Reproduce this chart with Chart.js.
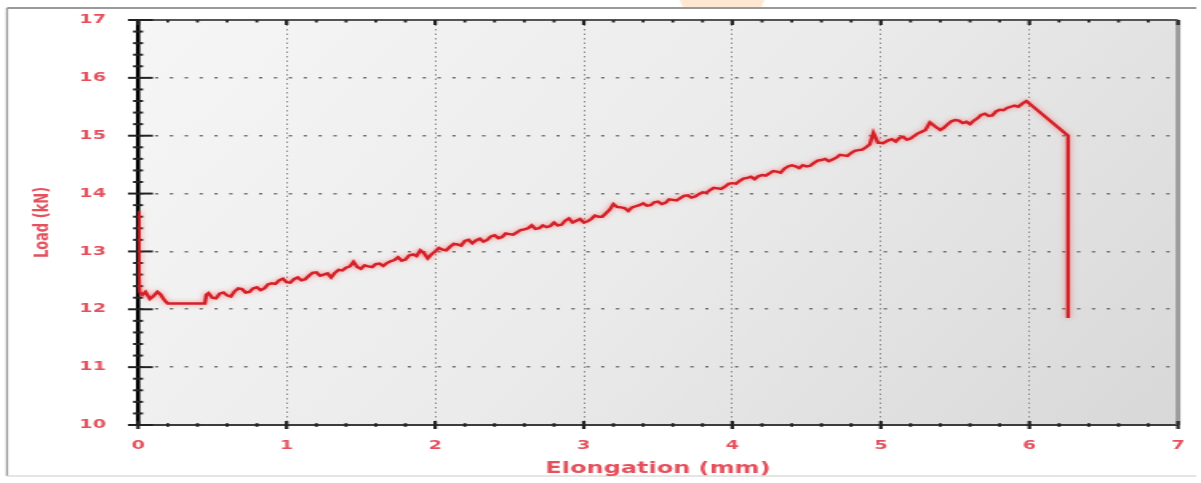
<!DOCTYPE html>
<html>
<head>
<meta charset="utf-8">
<script src="https://cdn.jsdelivr.net/npm/chart.js@4.4.1/dist/chart.umd.min.js"></script>
<style>
html, body { margin: 0; padding: 0; background: #fff; overflow: hidden; }
/* the source picture is stretched sideways, so draw narrow and stretch */
#wrap { width: 751px; height: 483px; transform: scaleX(1.5992); transform-origin: 0 0; }
</style>
</head>
<body>
<div id="wrap"><canvas id="c" width="751" height="483"></canvas></div>
<script>
// elongation (mm) / load (kN)
const elongation = [
  0.005, 0.005, 0.01, 0.03, 0.05, 0.08, 0.1, 0.13, 0.15, 0.18, 0.2, 0.45, 0.46, 0.475,
  0.5, 0.525, 0.55, 0.575, 0.6, 0.625, 0.65, 0.675, 0.7, 0.725, 0.75, 0.775, 0.8, 0.825, 0.85, 0.875, 0.9, 0.925, 0.95, 0.975,
  1.0, 1.025, 1.05, 1.075, 1.1, 1.125, 1.15, 1.175, 1.2, 1.225, 1.25, 1.275, 1.3, 1.325, 1.35, 1.375, 1.4, 1.425, 1.45, 1.475,
  1.5, 1.525, 1.55, 1.575, 1.6, 1.625, 1.65, 1.675, 1.7, 1.725, 1.75, 1.775, 1.8, 1.825, 1.85, 1.875, 1.9, 1.925, 1.95, 1.975,
  2.0, 2.025, 2.05, 2.075, 2.1, 2.125, 2.15, 2.175, 2.2, 2.225, 2.25, 2.275, 2.3, 2.325, 2.35, 2.375, 2.4, 2.425, 2.45, 2.475,
  2.5, 2.525, 2.55, 2.575, 2.6, 2.625, 2.65, 2.675, 2.7, 2.725, 2.75, 2.775, 2.8, 2.825, 2.85, 2.875, 2.9, 2.925, 2.95, 2.975,
  3.0, 3.025, 3.05, 3.075, 3.1, 3.125, 3.15, 3.175, 3.2, 3.225, 3.25, 3.275, 3.3, 3.325, 3.35, 3.375, 3.4, 3.425, 3.45, 3.475,
  3.5, 3.525, 3.55, 3.575, 3.6, 3.625, 3.65, 3.675, 3.7, 3.725, 3.75, 3.775, 3.8, 3.825, 3.85, 3.875, 3.9, 3.925, 3.95, 3.975,
  4.0, 4.025, 4.05, 4.075, 4.1, 4.125, 4.15, 4.175, 4.2, 4.225, 4.25, 4.275, 4.3, 4.325, 4.35, 4.375, 4.4, 4.425, 4.45, 4.475,
  4.5, 4.525, 4.55, 4.575, 4.6, 4.625, 4.65, 4.675, 4.7, 4.725, 4.75, 4.775, 4.8, 4.825, 4.85, 4.875, 4.9, 4.925, 4.95, 4.98,
  5.015, 5.05, 5.075, 5.1, 5.125, 5.15, 5.175, 5.2, 5.225, 5.25, 5.275, 5.3, 5.33, 5.37, 5.4, 5.425, 5.45, 5.475,
  5.5, 5.525, 5.55, 5.575, 5.6, 5.625, 5.65, 5.675, 5.7, 5.725, 5.75, 5.775, 5.8, 5.825, 5.85, 5.875, 5.9, 5.925, 5.95, 5.98,
  6.26, 6.26];
const load = [
  13.7, 12.6, 12.3, 12.25, 12.3, 12.18, 12.22, 12.3, 12.26, 12.15, 12.1, 12.1, 12.25, 12.28,
  12.2, 12.19, 12.27, 12.29, 12.24, 12.22, 12.31, 12.36, 12.35, 12.29, 12.3, 12.36, 12.38, 12.33, 12.36, 12.43, 12.45, 12.44, 12.5, 12.53,
  12.47, 12.46, 12.52, 12.55, 12.5, 12.52, 12.58, 12.63, 12.64, 12.58, 12.6, 12.62, 12.55, 12.63, 12.68, 12.67, 12.72, 12.74, 12.82, 12.73,
  12.7, 12.76, 12.74, 12.73, 12.78, 12.79, 12.75, 12.8, 12.83, 12.85, 12.9, 12.84, 12.86, 12.93, 12.95, 12.92, 13.02, 12.97, 12.88, 12.95,
  13.0, 13.06, 13.03, 13.02, 13.08, 13.13, 13.12, 13.1, 13.18, 13.2, 13.14, 13.19, 13.22, 13.17, 13.2, 13.26, 13.28, 13.23, 13.25, 13.31,
  13.3, 13.29, 13.33, 13.37, 13.38, 13.4, 13.45, 13.39, 13.4, 13.45, 13.42, 13.44, 13.5, 13.45, 13.46, 13.53, 13.57, 13.5, 13.53, 13.56,
  13.5, 13.52, 13.56, 13.62, 13.6, 13.6, 13.66, 13.72, 13.82, 13.77, 13.76, 13.75, 13.7, 13.76, 13.78, 13.8, 13.83, 13.79, 13.8, 13.85,
  13.86, 13.82, 13.84, 13.9, 13.89, 13.88, 13.92, 13.96, 13.97, 13.93, 13.95, 13.99, 14.02, 14.01, 14.06, 14.1, 14.09, 14.08, 14.12, 14.17,
  14.18, 14.17, 14.22, 14.26, 14.27, 14.29, 14.25, 14.3, 14.32, 14.31, 14.35, 14.39, 14.38, 14.36, 14.43, 14.47, 14.49, 14.47, 14.44, 14.49,
  14.47, 14.48, 14.53, 14.57, 14.58, 14.6, 14.56, 14.59, 14.62, 14.67, 14.66, 14.65, 14.7, 14.74, 14.75, 14.76, 14.8, 14.85, 15.05, 14.88,
  14.87, 14.92, 14.94, 14.9, 14.96, 14.98, 14.93, 14.95, 15.0, 15.04, 15.07, 15.1, 15.23, 15.15, 15.1, 15.14, 15.2, 15.25,
  15.27, 15.26, 15.22, 15.24, 15.2, 15.26, 15.3, 15.36, 15.38, 15.34, 15.35, 15.42, 15.45, 15.44, 15.48, 15.5, 15.52, 15.5, 15.55, 15.6,
  15.0, 11.85];

const xMajorTicks = [0, 1, 2, 3, 4, 5, 6, 7];
const yMajorTicks = [10, 11, 12, 13, 14, 15, 16, 17];
const minorPerMajor = 5;

const labelRed = '#e4505c';
const tickFont = { family: 'DejaVu Sans', size: 12, weight: 'bold' };

function isMajor(v) { return Math.abs(v - Math.round(v)) < 1e-6; }

function buildTicks(majors) {
  const out = [];
  majors.forEach((m, i) => {
    out.push({ value: m });
    if (i < majors.length - 1) {
      for (let k = 1; k < minorPerMajor; k++) out.push({ value: (m * minorPerMajor + k) / minorPerMajor });
    }
  });
  return out;
}

// keep the plot box where the picture has it
function fixBox(s, size) {
  if (s.isHorizontal()) s.height = size; else s.width = size;
  s.paddingTop = 0; s.paddingBottom = 0; s.paddingLeft = 0; s.paddingRight = 0;
}

// plot background, frame and the crossing tick marks
const decor = {
  id: 'decor',
  beforeDraw(chart) {
    const { ctx, chartArea: a } = chart;
    ctx.save();
    const g = ctx.createLinearGradient(a.left, a.top, a.right, a.bottom);
    g.addColorStop(0, '#f6f6f6');
    g.addColorStop(0.5, '#ebebeb');
    g.addColorStop(1, '#d8d8d8');
    ctx.fillStyle = g;
    ctx.fillRect(a.left, a.top, a.right - a.left, a.bottom - a.top);

    // peach smudge at the top
    ctx.fillStyle = 'rgba(253,222,190,0.7)';
    ctx.beginPath();
    ctx.moveTo(425, 0); ctx.lineTo(478, 0); ctx.lineTo(476, 7); ctx.lineTo(427, 7); ctx.closePath();
    ctx.fill();

    // outer frame
    ctx.strokeStyle = '#9a9a9a';
    ctx.lineWidth = 2;
    ctx.beginPath(); ctx.moveTo(4.4, 8); ctx.lineTo(748, 8); ctx.stroke();
    ctx.lineWidth = 1.3;
    ctx.beginPath(); ctx.moveTo(4.4, 8); ctx.lineTo(4.4, 476); ctx.stroke();
    ctx.strokeStyle = '#dddddd';
    ctx.beginPath(); ctx.moveTo(4.4, 476); ctx.lineTo(748, 476); ctx.stroke();
    ctx.restore();
  },
  beforeDatasetsDraw(chart) {
    const { ctx, chartArea: a, scales: { x, y } } = chart;
    ctx.save();
    // top border with small ticks
    ctx.strokeStyle = '#555';
    ctx.lineWidth = 2;
    ctx.beginPath(); ctx.moveTo(a.left, a.top); ctx.lineTo(a.right, a.top); ctx.stroke();
    // right border
    ctx.strokeStyle = '#9c9c9c';
    ctx.lineWidth = 3;
    ctx.beginPath(); ctx.moveTo(a.right, a.top); ctx.lineTo(a.right, a.bottom); ctx.stroke();

    ctx.strokeStyle = '#222';
    x.ticks.forEach(t => {
      const px = x.getPixelForValue(t.value);
      const big = isMajor(t.value);
      ctx.lineWidth = big ? 2.2 : 1.8;
      const h = big ? 4 : 1.8;
      ctx.beginPath(); ctx.moveTo(px, a.bottom - h); ctx.lineTo(px, a.bottom + h); ctx.stroke();
      ctx.beginPath(); ctx.moveTo(px, a.top); ctx.lineTo(px, a.top + (big ? 5 : 2.5)); ctx.stroke();
    });
    y.ticks.forEach(t => {
      const py = y.getPixelForValue(t.value);
      const big = isMajor(t.value);
      ctx.lineWidth = 2;
      ctx.beginPath();
      if (big) { ctx.moveTo(a.left - 6.3, py); ctx.lineTo(a.left + 9.3, py); }
      else { ctx.moveTo(a.left - 3.1, py); ctx.lineTo(a.left + 3.1, py); }
      ctx.stroke();
    });
    ctx.restore();
  },
  beforeDatasetDraw(chart) {
    const ctx = chart.ctx;
    ctx.save();
    ctx.shadowColor = 'rgba(255,70,70,0.6)';
    ctx.shadowBlur = 4;
  },
  afterDatasetDraw(chart) {
    chart.ctx.restore();
  }
};

new Chart(document.getElementById('c'), {
  type: 'scatter',
  data: {
    datasets: [{
      data: elongation.map((v, i) => ({ x: v, y: load[i] })),
      showLine: true,
      borderColor: '#d42028',
      borderWidth: 2.4,
      pointRadius: 0,
      tension: 0,
      fill: false
    }]
  },
  options: {
    responsive: false,
    devicePixelRatio: 1,
    animation: false,
    layout: { padding: { top: 20, right: 14.4, bottom: 0, left: 0 } },
    plugins: { legend: { display: false }, tooltip: { enabled: false } },
    scales: {
      x: {
        type: 'linear', min: 0, max: 7,
        afterBuildTicks: s => { s.ticks = buildTicks(xMajorTicks); },
        afterFit: s => fixBox(s, 58),
        ticks: {
          autoSkip: false, maxRotation: 0, padding: 14, color: labelRed, font: tickFont,
          callback: v => isMajor(v) ? String(Math.round(v)) : ''
        },
        grid: {
          drawTicks: false, lineWidth: 1,
          color: c => (c.tick && isMajor(c.tick.value) && c.tick.value > 0 && c.tick.value < 7) ? '#8a8a8a' : 'rgba(0,0,0,0)'
        },
        border: { display: true, color: '#3c3c3c', width: 2, dash: [1.5, 3] },
        title: {
          display: true, text: 'Elongation (mm)', color: labelRed,
          font: { family: 'DejaVu Sans', size: 15, weight: 'bold' },
          padding: { top: 0, bottom: 5 }
        }
      },
      y: {
        type: 'linear', min: 10, max: 17,
        afterBuildTicks: s => { s.ticks = buildTicks(yMajorTicks); },
        afterFit: s => fixBox(s, 86.3),
        ticks: {
          autoSkip: false, padding: 20, color: labelRed, font: tickFont,
          callback: v => isMajor(v) ? String(Math.round(v)) : ''
        },
        grid: {
          drawTicks: false, lineWidth: 1.6,
          color: c => (c.tick && isMajor(c.tick.value) && c.tick.value > 10 && c.tick.value < 17) ? '#6e6e6e' : 'rgba(0,0,0,0)'
        },
        border: { display: true, color: '#000', width: 2.6, dash: [2, 7.3] },
        title: {
          display: true, text: 'Load (kN)', color: labelRed,
          font: { family: 'DejaVu Sans', size: 13, weight: 'bold' },
          padding: { top: 19, bottom: 0 }
        }
      }
    }
  },
  plugins: [decor]
});
</script>
</body>
</html>
